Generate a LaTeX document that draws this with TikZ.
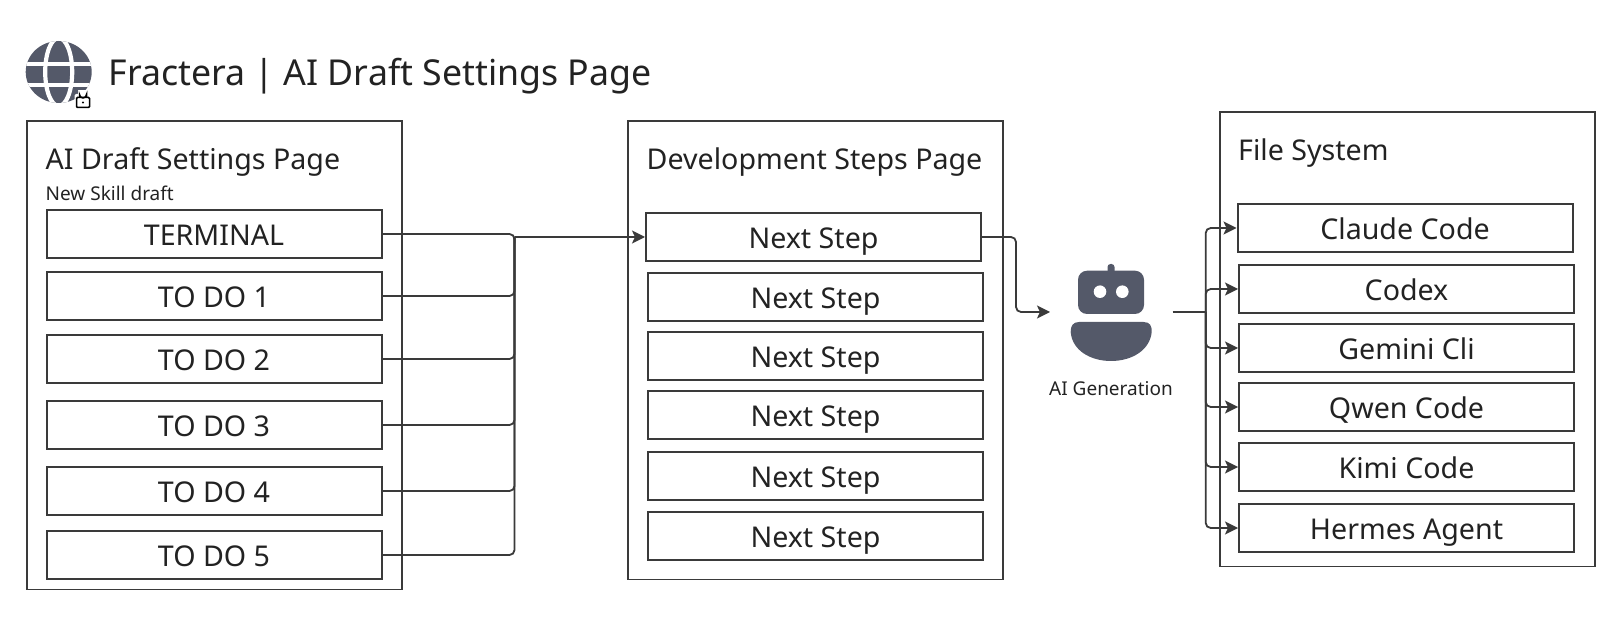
\documentclass[tikz,border=0pt]{standalone}
\usepackage{fontspec}
\setmainfont{Noto Sans}
\usetikzlibrary{arrows.meta}
\definecolor{icongray}{HTML}{545969}
\definecolor{linegray}{HTML}{3A3A3A}
\definecolor{textgray}{HTML}{222222}
\tikzset{
  pagebox/.style  = {draw=linegray, line width=1.8pt, minimum width=375pt, anchor=north west},
  stepbox/.style  = {draw=linegray, line width=2pt, minimum width=335pt, minimum height=48pt,
                     text height=23pt, text depth=0pt,
                     text=textgray, font=\fontsize{28.6}{34}\selectfont},
  titletext/.style= {anchor=base west, text=textgray, inner sep=0pt, font=\fontsize{28.6}{34}\selectfont},
  smalltext/.style= {anchor=base west, text=textgray, inner sep=0pt, font=\fontsize{19}{23}\selectfont},
  link/.style     = {draw=linegray, line width=1.8pt, rounded corners=5pt},
  flow/.style     = {link, -{Stealth[length=13pt,width=13pt,inset=3pt]}},
}
\begin{document}
\begin{tikzpicture}[x=1pt, y=-1pt]
    \useasboundingbox (0,0) rectangle (1620,617);
    % globe icon with lock
    \fill[icongray] (58.7,72) ellipse (33 and 31);
    \begin{scope}
      \clip (58.7,72) ellipse (33 and 31);
      \draw[white, line width=4.2pt] (58.7,72) ellipse (13.5 and 34);
      \draw[white, line width=4.2pt] (20,63.8) -- (100,63.8);
      \draw[white, line width=4.2pt] (20,85) -- (100,85);
    \end{scope}
    \fill[white, rounded corners=2pt] (74.5,94) rectangle (92,109);
    \fill[white] (78,90) rectangle (88,96);
    \draw[black, line width=1.5pt, rounded corners=1pt] (76.5,97.5) rectangle (89.5,107.5);
    \draw[black, line width=1.5pt] (79.5,97.5) -- (79.5,94.5) arc (180:0:3.5) -- (86.5,97.5);
    \fill[black] (83,102.5) circle (1.2);
    \node[titletext, font=\fontsize{35.7}{42}\selectfont] (pagetitle) at (108.5,86) {Fractera | AI Draft Settings Page};
    % the three outer frames
    \node[pagebox, minimum height=468pt] (settings) at (26,120.5) {};
    \node[pagebox, minimum height=458pt] (steps) at (627,120.5) {};
    \node[pagebox, minimum height=454pt] (files) at (1219,111.5) {};
    \node[titletext] (settingstitle) at (45.5,170) {AI Draft Settings Page};
    \node[smalltext] (drafttext) at (45.5,201) {New Skill draft};
    \node[titletext] (stepstitle) at (646.5,170) {Development Steps Page};
    \node[titletext] (filestitle) at (1238,161) {File System};
    % left column
    \node[stepbox] (terminal) at (214,234) {TERMINAL};
    \node[stepbox] (todo1)    at (214,296) {TO DO 1};
    \node[stepbox] (todo2)    at (214,359) {TO DO 2};
    \node[stepbox] (todo3)    at (214,425) {TO DO 3};
    \node[stepbox] (todo4)    at (214,491) {TO DO 4};
    \node[stepbox] (todo5)    at (214,555) {TO DO 5};
    % middle column
    \node[stepbox] (next0) at (813.5,237) {Next Step};
    \node[stepbox] (next1) at (815.5,297) {Next Step};
    \node[stepbox] (next2) at (815.5,356) {Next Step};
    \node[stepbox] (next3) at (815.5,415) {Next Step};
    \node[stepbox] (next4) at (815.5,476) {Next Step};
    \node[stepbox] (next5) at (815.5,536) {Next Step};
    % right column
    \node[stepbox] (claude) at (1405,228) {Claude Code};
    \node[stepbox] (codex)  at (1406.5,289) {Codex};
    \node[stepbox] (gemini) at (1406.5,348) {Gemini Cli};
    \node[stepbox] (qwen)   at (1406.5,407) {Qwen Code};
    \node[stepbox] (kimi)   at (1406.5,467) {Kimi Code};
    \node[stepbox] (hermes) at (1406.5,528) {Hermes Agent};
    % robot
    \fill[icongray, rounded corners=3pt] (1107.5,275) rectangle (1114.5,264);
    \fill[icongray, rounded corners=9pt] (1078,270.7) rectangle (1144,314);
    \fill[white] (1100,291.7) circle (6.3);
    \fill[white] (1122.3,291.7) circle (6.3);
    \fill[icongray] (1079,322) -- (1143.5,322) .. controls (1150,322) and (1152,326) .. (1151.7,332)
      .. controls (1150,350) and (1132,361) .. (1111,361)
      .. controls (1090,361) and (1072,350) .. (1070.7,332)
      .. controls (1070.5,326) and (1073,322) .. (1079,322) -- cycle;
    \node[smalltext, anchor=base] (robotlabel) at (1111,396) {AI Generation};
    \coordinate (robotin)  at (1050,312);
    \coordinate (robotout) at (1172.7,312);
    % connectors
    \coordinate (merge) at (514.5,237);
    \coordinate (fork)  at (1205.7,312);
    \draw[link] (terminal.east) -| (merge);
    \draw[link] (todo1.east) -| (merge);
    \draw[link] (todo2.east) -| (merge);
    \draw[link] (todo3.east) -| (merge);
    \draw[link] (todo4.east) -| (merge);
    \draw[link] (todo5.east) -| (merge);
    \draw[flow] (merge) -- (next0.west);
    \draw[flow] (next0.east) -| (1016,275) |- (robotin);
    \draw[link, line width=2.2pt] (robotout) -- (fork);
    \draw[flow] (fork) |- (claude.west);
    \draw[flow] (fork) |- (codex.west);
    \draw[flow] (fork) |- (gemini.west);
    \draw[flow] (fork) |- (qwen.west);
    \draw[flow] (fork) |- (kimi.west);
    \draw[flow] (fork) |- (hermes.west);
\end{tikzpicture}
\end{document}
